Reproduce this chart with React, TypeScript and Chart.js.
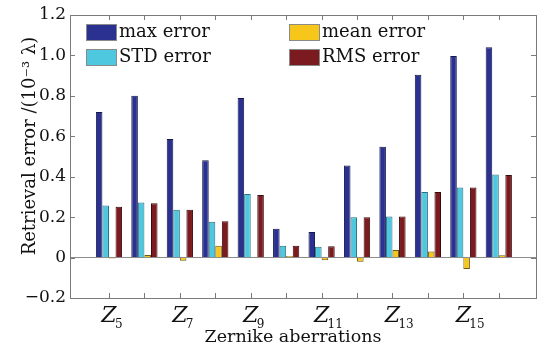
import { useEffect, useRef } from 'react';
import { Chart, registerables } from 'chart.js';

Chart.register(...registerables);

// Zernike term orders on the x axis; only odd orders get a label
const orders = [5, 6, 7, 8, 9, 10, 11, 12, 13, 14, 15, 16];
const labeledOrders = [5, 7, 9, 11, 13, 15];

// Retrieval errors in units of 10^-3 lambda
const maxError = [0.72, 0.8, 0.586, 0.482, 0.79, 0.142, 0.127, 0.455, 0.548, 0.904, 0.997, 1.04];
const stdError = [0.257, 0.272, 0.236, 0.177, 0.314, 0.059, 0.054, 0.2, 0.203, 0.324, 0.347, 0.411];
const meanError = [-0.004, 0.013, -0.016, 0.058, 0.003, 0.008, -0.013, -0.021, 0.038, 0.03, -0.056, 0.012];
const rmsError = [0.252, 0.269, 0.236, 0.18, 0.309, 0.058, 0.056, 0.2, 0.203, 0.324, 0.347, 0.408];

const yTicks = [-0.2, 0, 0.2, 0.4, 0.6, 0.8, 1.0, 1.2];

const seriesNames = ['max error', 'STD error', 'mean error', 'RMS error'];
const seriesFill = ['#2a3190', '#4ec8df', '#f7c61a', '#7b1a1f'];
const seriesEdge = ['#15184a', '#2c6f80', '#6e5a12', '#3a0a0d'];

const SERIF = "'DejaVu Serif', serif";

const toPoints = (vals: number[]) => vals.map((v, i) => ({ x: orders[i], y: v }));

const decorations = {
  id: 'decorations',
  afterDraw(chart: any) {
    const { ctx, chartArea: a, scales } = chart;
    const xs = scales.x;
    const ys = scales.y;
    ctx.save();

    // frame
    ctx.strokeStyle = '#7a7a7a';
    ctx.lineWidth = 1;
    ctx.strokeRect(Math.round(a.left) + 0.5, Math.round(a.top) + 0.5, Math.round(a.width), Math.round(a.height));

    // inward tick marks
    ctx.beginPath();
    for (const o of orders) {
      const px = Math.round(xs.getPixelForValue(o)) + 0.5;
      ctx.moveTo(px, a.bottom);
      ctx.lineTo(px, a.bottom - 5);
      ctx.moveTo(px, a.top);
      ctx.lineTo(px, a.top + 5);
    }
    for (const t of yTicks) {
      const py = Math.round(ys.getPixelForValue(t)) + 0.5;
      ctx.moveTo(a.left, py);
      ctx.lineTo(a.left + 5, py);
      ctx.moveTo(a.right, py);
      ctx.lineTo(a.right - 5, py);
    }
    ctx.stroke();

    // x tick labels: Z with subscript order
    ctx.fillStyle = '#111';
    ctx.textBaseline = 'alphabetic';
    for (const o of labeledOrders) {
      const px = xs.getPixelForValue(o);
      ctx.font = `italic 22px ${SERIF}`;
      ctx.textAlign = 'center';
      ctx.fillText('Z', px, 322);
      ctx.font = `12px ${SERIF}`;
      ctx.textAlign = 'left';
      ctx.fillText(String(o), px + 6, 328);
    }

    // axis titles
    ctx.font = `17.5px ${SERIF}`;
    ctx.textAlign = 'center';
    ctx.fillText('Zernike aberrations', 293, 342);

    ctx.save();
    ctx.translate(35, 146);
    ctx.rotate(-Math.PI / 2);
    ctx.font = `18px ${SERIF}`;
    ctx.fillText('Retrieval error /(10\u207B\u00B3 \u03BB)', 0, 0);
    ctx.restore();

    // legend, two columns
    const cols = [86, 289];
    const rows = [32, 57];
    chart.data.datasets.forEach((ds: any, i: number) => {
      const bx = cols[Math.floor(i / 2)];
      const cy = rows[i % 2];
      ctx.fillStyle = seriesFill[i];
      ctx.fillRect(bx, cy - 8, 30, 16);
      ctx.strokeStyle = '#8a8a8a';
      ctx.strokeRect(bx + 0.5, cy - 8 + 0.5, 30, 16);
      ctx.fillStyle = '#111';
      ctx.font = `18px ${SERIF}`;
      ctx.textAlign = 'left';
      ctx.textBaseline = 'middle';
      ctx.fillText(ds.label, bx + 33, cy);
    });

    ctx.restore();
  },
};

export default function App() {
  const canvasRef = useRef<HTMLCanvasElement>(null);

  useEffect(() => {
    document.body.style.margin = '0';
    const canvas = canvasRef.current;
    if (!canvas) return;
    const series = [maxError, stdError, meanError, rmsError];
    const chart = new Chart(canvas, {
      type: 'bar',
      data: {
        datasets: series.map((vals, i) => ({
          label: seriesNames[i],
          data: toPoints(vals) as any,
          backgroundColor: seriesFill[i],
          borderColor: seriesEdge[i],
          borderWidth: 1,
          categoryPercentage: 0.74,
          barPercentage: 1,
        })),
      },
      options: {
        responsive: false,
        animation: false,
        layout: { padding: { top: 15, right: 10, left: 0, bottom: 0 } },
        plugins: {
          legend: { display: false },
          tooltip: { enabled: false },
        },
        scales: {
          x: {
            type: 'linear',
            min: 3.9,
            max: 17.05,
            offset: false,
            grid: { display: false, offset: false },
            border: { display: false },
            ticks: { display: false },
            afterBuildTicks: (s: any) => {
              s.ticks = orders.map((v) => ({ value: v }));
            },
            afterFit: (s: any) => {
              s.height = 53;
            },
          },
          y: {
            min: -0.2,
            max: 1.2,
            grid: {
              drawTicks: false,
              color: (c: any) => (c.tick && Math.abs(c.tick.value) < 1e-9 ? '#8c8c8c' : 'rgba(0,0,0,0)'),
              lineWidth: 1,
            },
            border: { display: false },
            ticks: {
              stepSize: 0.2,
              padding: 4,
              color: '#111',
              font: { family: 'DejaVu Serif', size: 17 },
              callback: (v: any) => {
                const n = Number(v);
                if (Math.abs(n) < 1e-9) return '0';
                return n < 0 ? '\u2212' + Math.abs(n).toFixed(1) : n.toFixed(1);
              },
            },
            afterBuildTicks: (s: any) => {
              s.ticks = yTicks.map((v) => ({ value: v }));
            },
            afterFit: (s: any) => {
              s.width = 70;
            },
          },
        },
      },
      plugins: [decorations],
    });
    return () => chart.destroy();
  }, []);

  return <canvas ref={canvasRef} width={546} height={351} style={{ display: 'block' }} />;
}
